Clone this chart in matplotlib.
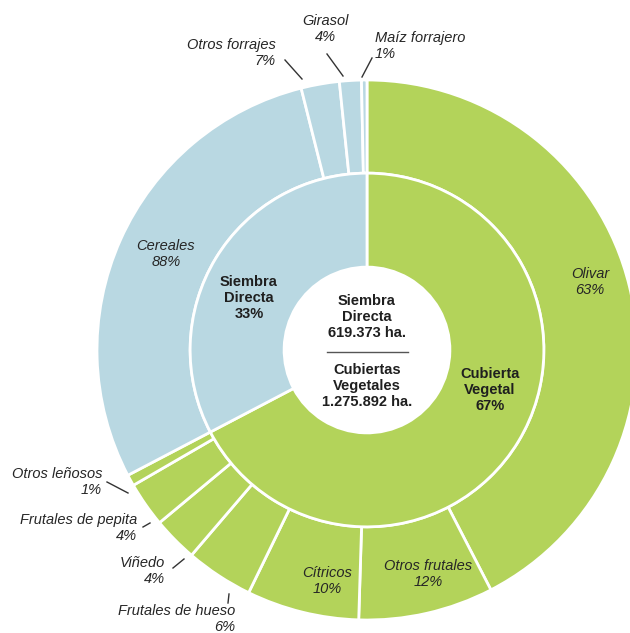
import numpy as np
import matplotlib.pyplot as plt

plt.rcParams['font.family'] = ['Liberation Sans', 'DejaVu Sans']

# superficie total por técnica (ha)
tecnicas = ['Cubierta\nVegetal', 'Siembra\nDirecta']
hectareas = [1275892, 619373]

# reparto por cultivo dentro de cada técnica (%)
cubierta_cultivos = ['Olivar', 'Otros frutales', 'Cítricos', 'Frutales de hueso',
                     'Viñedo', 'Frutales de pepita', 'Otros leñosos']
cubierta_pct = [63, 12, 10, 6, 4, 4, 1]
siembra_cultivos = ['Cereales', 'Otros forrajes', 'Girasol', 'Maíz forrajero']
siembra_pct = [88, 7, 4, 1]

VERDE = '#b3d35a'
AZUL = '#b9d8e2'
TXT = '#262626'

# geometría en píxeles de la imagen final
CX, CY, R = 367, 350, 270
R_MID = 0.655
R_HOLE = 0.307


def px(x, y):
    return (x - CX) / R, (CY - y) / R


fig = plt.figure(figsize=(6.3, 6.33), dpi=100)
ax = fig.add_axes([0, 0, 1, 1])

outer_vals = [p / 100 * hectareas[0] for p in cubierta_pct] + \
             [p / 100 * hectareas[1] for p in siembra_pct]
outer_cols = [VERDE] * len(cubierta_pct) + [AZUL] * len(siembra_pct)
outer_names = cubierta_cultivos + siembra_cultivos
outer_pcts = cubierta_pct + siembra_pct

outer, _ = ax.pie(outer_vals, radius=1, colors=outer_cols, startangle=90,
                  counterclock=False,
                  wedgeprops=dict(width=1 - R_MID, edgecolor='white', linewidth=2))
inner, _ = ax.pie(hectareas, radius=R_MID, colors=[VERDE, AZUL], startangle=90,
                  counterclock=False,
                  wedgeprops=dict(width=R_MID - R_HOLE, edgecolor='white', linewidth=2))

# etiquetas dentro de los sectores grandes: (radio, giro en grados)
dentro = {
    'Olivar': (0.864, 3.3),
    'Otros frutales': (0.86, 2.4),
    'Cítricos': (0.867, 4.1),
    'Cereales': (0.825, -1.4),
}
for w, name, pct in zip(outer, outer_names, outer_pcts):
    if name not in dentro:
        continue
    r, giro = dentro[name]
    ang = np.deg2rad((w.theta1 + w.theta2) / 2 + giro)
    ax.text(r * np.cos(ang), r * np.sin(ang), f'{name}\n{pct}%', ha='center', va='center',
            fontsize=10.5, style='italic', color=TXT, linespacing=1.2)

# etiquetas exteriores con línea guía: texto (x, y, alineación) y segmento
fuera = {
    'Otros forrajes': ((276, 53), 'right', (285, 60), (302, 79)),
    'Girasol': ((325, 29), 'center', (327, 54), (343, 76)),
    'Maíz forrajero': ((375, 46), 'left', (372, 58), (362, 77)),
    'Otros leñosos': ((102, 482), 'right', (107, 482), (128, 493)),
    'Frutales de pepita': ((137, 528), 'right', (143, 527), (150, 523)),
    'Viñedo': ((165, 571), 'right', (173, 568), (184, 559)),
    'Frutales de hueso': ((235, 619), 'right', (228, 603), (229, 594)),
}
for name, pct in zip(outer_names, outer_pcts):
    if name not in fuera:
        continue
    pos, align, a, b = fuera[name]
    ax.text(*px(*pos), f'{name}\n{pct}%', ha=align, va='center', multialignment=align,
            fontsize=10.5, style='italic', color=TXT, linespacing=1.2)
    (x0, y0), (x1, y1) = px(*a), px(*b)
    ax.plot([x0, x1], [y0, y1], color='#333333', lw=1)

# etiquetas del anillo interior
total = sum(hectareas)
inner_pos = [(490, 390), (249, 298)]
for name, ha_val, pos in zip(tecnicas, hectareas, inner_pos):
    ax.text(*px(*pos), f'{name}\n{round(100 * ha_val / total)}%', ha='center', va='center',
            fontsize=10.5, fontweight='bold', color='#1f1f1f', linespacing=1.2)


def fmt(v):
    return f'{v:,}'.replace(',', '.')


ax.text(*px(367, 317), f'Siembra\nDirecta\n{fmt(hectareas[1])} ha.', ha='center', va='center',
        fontsize=10.5, fontweight='bold', color='#1f1f1f', linespacing=1.2)
ax.text(*px(367, 386), f'Cubiertas\nVegetales\n{fmt(hectareas[0])} ha.', ha='center',
        va='center', fontsize=10.5, fontweight='bold', color='#1f1f1f', linespacing=1.2)
(x0, y0), (x1, y1) = px(327, 352), px(408, 352)
ax.plot([x0, x1], [y0, y1], color='#555555', lw=1)

ax.set_xlim(-CX / R, (630 - CX) / R)
ax.set_ylim(-(633 - CY) / R, CY / R)
ax.set_aspect('equal')
ax.axis('off')

fig.savefig('out.png', dpi=100, facecolor='white')
